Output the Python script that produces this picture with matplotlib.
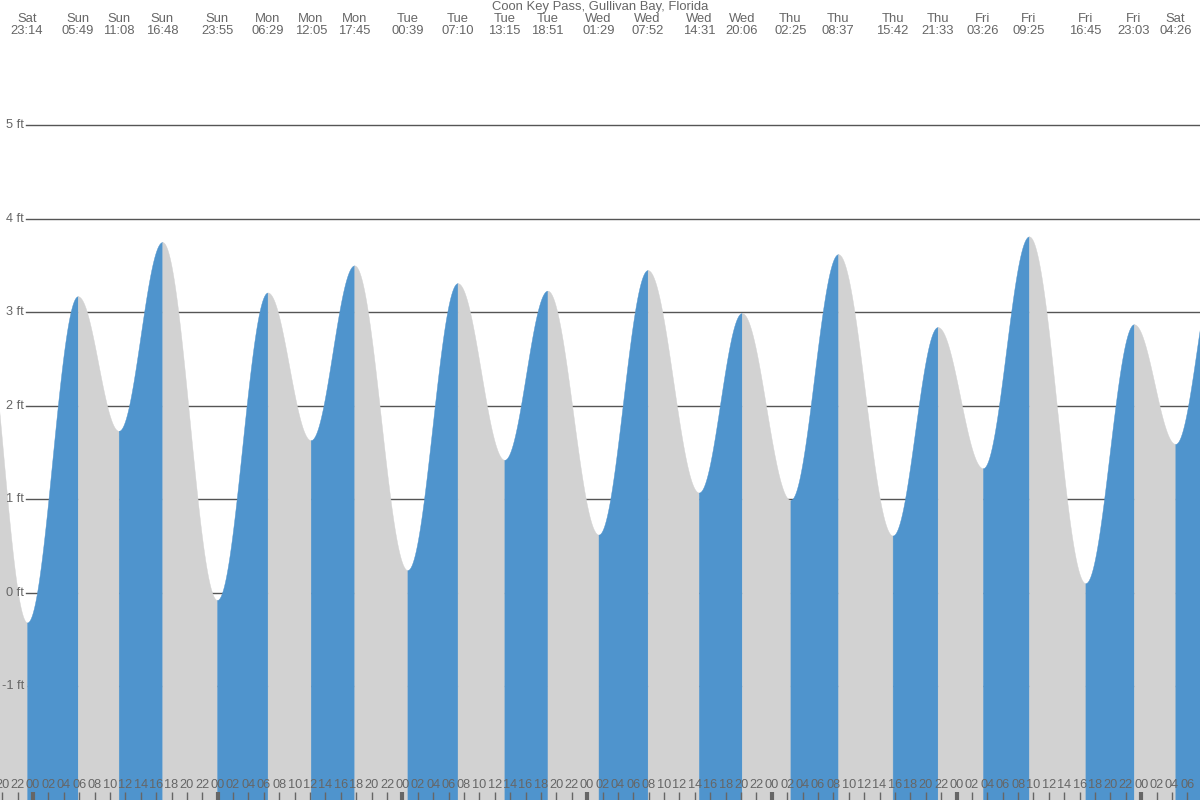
import numpy as np
import matplotlib
matplotlib.use("Agg")
import matplotlib.pyplot as plt
import matplotlib.transforms as mtransforms

# ---- data ----
title = "Coon Key Pass, Gullivan Bay, Florida"
day_names = ["Sat", "Sun", "Mon", "Tue", "Wed", "Thu", "Fri", "Sat"]
# day offset relative to Sunday 00:00 (Sat before = -1)
extreme_day_offsets = [-1, -1, 0, 0, 0, 0, 1, 1, 1, 2, 2, 2, 2, 3, 3, 3, 3, 4, 4, 4, 4, 5, 5, 5, 5, 6]
extreme_times = ["17:00", "23:14", "05:49", "11:08", "16:48", "23:55", "06:29", "12:05", "17:45",
                 "00:39", "07:10", "13:15", "18:51", "01:29", "07:52", "14:31", "20:06",
                 "02:25", "08:37", "15:42", "21:33", "03:26", "09:25", "16:45", "23:03",
                 "04:26"]
extreme_heights = [3.30, -0.32, 3.17, 1.73, 3.75, -0.08, 3.21, 1.63, 3.50,
                   0.24, 3.31, 1.42, 3.23, 0.62, 3.45, 1.07, 2.99,
                   0.99, 3.62, 0.61, 2.84, 1.33, 3.81, 0.10, 2.87,
                   1.59]
# next (off-chart) high water, estimated
next_day_offset = 6
next_time = "10:00"
next_height = 3.60

y_ticks = [-1, 0, 1, 2, 3, 4, 5]
x_start_h, x_end_h = -4.29, 151.64
y_min, y_max = -2.22, 6.34

BLUE = "#4f94cd"
GRAY = "#d2d2d2"
TEXT = "#666666"
LINE = "#555555"
FONT = "Liberation Sans"

def to_hours(day, t):
    hh, mm = t.split(":")
    return day * 24 + int(hh) + int(mm) / 60.0

days = extreme_day_offsets + [next_day_offset]
times = extreme_times + [next_time]
hts = extreme_heights + [next_height]
th = np.array([to_hours(d, t) for d, t in zip(days, times)])
hv = np.array(hts)

fig = plt.figure(figsize=(12, 8), dpi=100)
ax = fig.add_axes([0, 0, 1, 1])
ax.set_xlim(x_start_h, x_end_h)
ax.set_ylim(y_min, y_max)
ax.axis("off")
fig.patch.set_facecolor("white")

ytr = mtransforms.blended_transform_factory(ax.transAxes, ax.transData)
# grid lines (behind fill)
for y in y_ticks:
    ax.plot([26 / 1200, 1], [y, y], transform=ytr, color=LINE, lw=1, zorder=0.5)
    ax.text(24 / 1200, y, f"{y} ft", transform=ytr,
            ha="right", va="center", fontsize=9.2, color=TEXT, family=FONT, zorder=5)

# tide curve, cosine interpolation between extremes
for i in range(len(th) - 1):
    t0, t1 = th[i], th[i + 1]
    h0, h1 = hv[i], hv[i + 1]
    tt = np.linspace(t0, t1, 200)
    frac = (tt - t0) / (t1 - t0)
    yy = h0 + (h1 - h0) * (1 - np.cos(np.pi * frac)) / 2
    col = BLUE if h1 > h0 else GRAY
    ax.fill_between(tt, y_min - 1, yy, facecolor=col, edgecolor=col, lw=0.3, zorder=3)

# hour labels and ticks at bottom
bt = mtransforms.blended_transform_factory(ax.transData, ax.transAxes)
for h in range(-4, 152, 2):
    ax.text(h, 1 - 785 / 800, f"{h % 24:02d}", transform=bt, ha="center", va="center",
            fontsize=9.2, color=TEXT, family=FONT, zorder=5)
    lw = 3 if h % 24 == 0 else 1
    ax.plot([h, h], [0, 8 / 800], transform=bt, color=TEXT, lw=lw, zorder=5, solid_capstyle="butt")

# top labels for extremes within range
for d, t, x in zip(days, times, th):
    if x_start_h <= x <= x_end_h:
        dn = day_names[d + 1]
        ax.text(x, 1 - 19 / 800, dn, transform=bt, ha="center", va="center",
                fontsize=9.4, color=TEXT, family=FONT)
        ax.text(x, 1 - 31 / 800, t, transform=bt, ha="center", va="center",
                fontsize=9.4, color=TEXT, family=FONT)

ax.text(0.5, 1 - 7 / 800, title, transform=ax.transAxes, ha="center", va="center",
        fontsize=9.4, color=TEXT, family=FONT)

fig.savefig("out.png", dpi=100)
